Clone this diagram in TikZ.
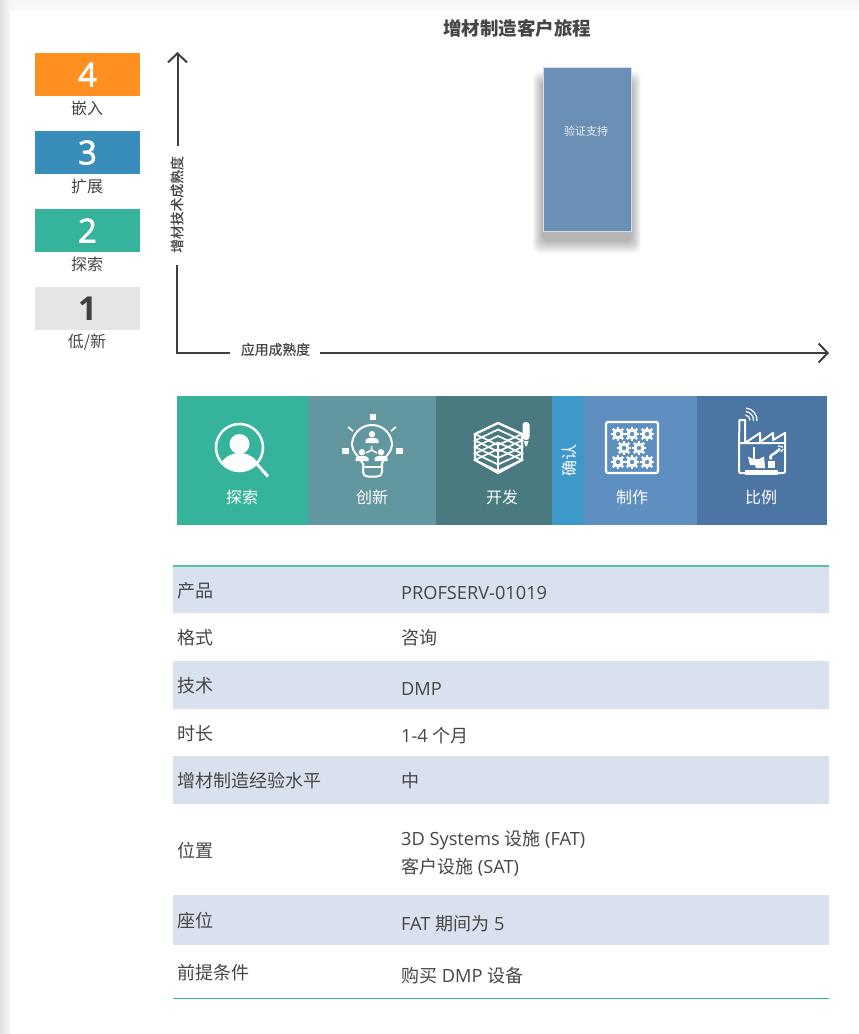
\documentclass[tikz,border=0pt]{standalone}
\usepackage{fontspec}
\setmainfont{Open Sans}
\newfontfamily\cjk{Noto Sans CJK SC}
\newfontfamily\cjkm[FakeBold=0.5]{Noto Sans CJK SC}
\newfontfamily\digitf[FakeBold=2]{Open Sans}
\usetikzlibrary{arrows.meta}
\definecolor{ink}{HTML}{464646}
\definecolor{axisc}{HTML}{404040}
\definecolor{rowc}{HTML}{DAE1EE}
\definecolor{tealc}{HTML}{35B39B}
\definecolor{toplinec}{HTML}{4CC4AC}
\definecolor{orangec}{HTML}{FF8F1F}
\definecolor{bluec}{HTML}{398DBA}
\definecolor{greyc}{HTML}{E5E5E5}
\definecolor{t2}{HTML}{62979F}
\definecolor{t3}{HTML}{487A7F}
\definecolor{t4}{HTML}{3E99CB}
\definecolor{t5}{HTML}{5F8FC1}
\definecolor{t6}{HTML}{4B75A3}
\definecolor{cardc}{HTML}{6B90B5}
\newcommand{\fs}[1]{\fontsize{#1}{#1}\selectfont}
\tikzset{
  x=1pt,y=-1pt,
  legendbox/.style={inner sep=0,outer sep=0,minimum width=105pt,minimum height=43pt,text=white,font=\digitf\fs{33}},
  legendlabel/.style={inner sep=0,text=ink,font=\cjk\fs{16}},
  tilelabel/.style={inner sep=0,text=white,font=\cjk\fs{16}},
  axislabel/.style={inner sep=0,text=ink,font=\cjkm\fs{13.8}},
  rowkey/.style={inner sep=0,anchor=west,text=ink,font=\cjk\fs{18}},
  rowval/.style={inner sep=0,anchor=west,text=ink,font=\fs{18.2}},
  axisline/.style={axisc,line width=2pt},
  axistip/.style={axisline,-{Straight Barb[length=9pt,width=19pt,line width=2pt]}},
  iconline/.style={white,line width=2pt,line cap=round,line join=round},
}
\newcommand{\gear}[2]{%
  \draw[white,line width=3pt] (#1,#2) circle[radius=4pt];
  \foreach \a in {0,45,...,315}{\draw[white,line width=2.4pt] ([shift={(\a:5pt)}]#1,#2) -- ([shift={(\a:7.3pt)}]#1,#2);}
}
\newcommand{\person}[3]{%
  \fill[white] (#1,#2-2.8*#3) circle[radius=3.2*#3 pt];
  \fill[white] (#1-6.5*#3,#2+6*#3) -- (#1-6.5*#3,#2+3*#3) .. controls (#1-5*#3,#2) and (#1+5*#3,#2) .. (#1+6.5*#3,#2+3*#3) -- (#1+6.5*#3,#2+6*#3) -- cycle;
}
\begin{document}
\begin{tikzpicture}
\useasboundingbox (0,0) rectangle (859,1034);
% page edge
\fill[white] (0,0) rectangle (859,1034);
\shade[top color=white!96!black,bottom color=white!98!black] (0,0) rectangle (859,10);
\shade[left color=white!88!black,right color=white!97!black] (0,0) rectangle (10,1034);

% title
\node[inner sep=0,text=ink,font=\cjk\bfseries\fs{18.5}] (title) at (517,28.5) {增材制造客户旅程};

% legend
\node[legendbox,fill=orangec] (l4) at (87.5,74.5) {4};
\node[legendbox,fill=bluec] (l3) at (87.5,152.5) {3};
\node[legendbox,fill=tealc] (l2) at (87.5,230.5) {2};
\node[legendbox,fill=greyc,text=axisc,font=\bfseries\fs{33}] (l1) at (87.5,308.5) {1};
\node[legendlabel] (l4t) at (87,108.5) {嵌入};
\node[legendlabel] (l3t) at (87,186.5) {扩展};
\node[legendlabel] (l2t) at (87,264.5) {探索};
\node[legendlabel] (l1t) at (87,342.5) {低/新};

% axes
\coordinate (origin) at (176.5,353);
\coordinate (ylow) at (176.5,265);
\coordinate (yhigh) at (177.5,146);
\coordinate (ytip) at (177.5,52);
\coordinate (xlow) at (230,353);
\coordinate (xhigh) at (320,353);
\coordinate (xtip) at (829,353);
\node[axislabel,rotate=90] (ylab) at (177,204.5) {增材技术成熟度};
\node[axislabel] (xlab) at (275.5,349.5) {应用成熟度};
\draw[axisline,line join=miter] (ylow) -- (origin) -- (xlow);
\draw[axistip] (yhigh) -- (ytip);
\draw[axistip] (xhigh) -- (xtip);

% card with soft shadow
\foreach \i in {0,...,9}{
  \fill[black,opacity=.03,rounded corners=7pt] (533+\i,72+\i) rectangle (641-\i,253-\i*1.3);
}
\node[draw=white!70!cardc,line width=.8pt,fill=cardc,minimum width=88pt,minimum height=164pt,inner sep=0,outer sep=0] (card) at (587,149) {};
\node[inner sep=0,text=white!85!cardc,font=\cjk\fs{11}] (cardt) at (586,131) {验证支持};

% tiles
\fill[tealc] (177,396) rectangle (308,525);
\fill[t2] (308,396) rectangle (436,525);
\fill[t3] (436,396) rectangle (552,525);
\fill[t4] (552,396) rectangle (584,525);
\fill[t5] (584,396) rectangle (697,525);
\fill[t6] (697,396) rectangle (827,525);
\node[tilelabel] (s1) at (242,497) {探索};
\node[tilelabel] (s2) at (372,497) {创新};
\node[tilelabel] (s3) at (502,497) {开发};
\node[tilelabel,rotate=90] (s4) at (569,460) {确认};
\node[tilelabel] (s5) at (632,497) {制作};
\node[tilelabel] (s6) at (761,497) {比例};

% icon: search
\draw[white,line width=2.5pt] (239.5,447.5) circle[radius=23.5pt];
\begin{scope}
  \clip (239.5,447.5) circle[radius=23.5pt];
  \fill[white] (239.5,472) ellipse[x radius=21pt,y radius=19pt];
\end{scope}
\fill[white] (239.5,444) circle[radius=10pt];
\draw[white,line width=3pt] (256,463) -- (268,476.5);

% icon: bulb
\draw[iconline] (363.5,465) .. controls (360,457) and (352,452) .. (352,445)
  arc[start angle=180,end angle=0,radius=20pt]
  .. controls (392,452) and (384,457) .. (381.5,465);
\draw[iconline] (363,465) -- (363,472) .. controls (363,475) and (365,476.5) .. (368,476.5) -- (377,476.5) .. controls (380,476.5) and (382,475) .. (382,472) -- (382,465);
\draw[iconline] (363,467) -- (382,467);
\fill[white] (370,414) rectangle (376,420);
\fill[white] (342,448) rectangle (349,454);
\fill[white] (396,448) rectangle (403,454);
\draw[white,line width=1.6pt] (348,427) -- (353,431);
\draw[white,line width=1.6pt] (396,427) -- (391,431);
\person{372}{437}{1}
\person{362}{455}{1}
\person{381}{455}{1}
\draw[white,line width=1.5pt] (371.5,446) -- (371.5,450) (371.5,450) -- (366,453) (371.5,450) -- (377,453);

% icon: lattice
\begin{scope}[line join=miter]
  \foreach \k in {0,6.5,13,19.5,26}{
    \draw[white,line width=1.7pt] (498,423+\k) -- (522,434+\k) -- (498,445+\k) -- (475,434+\k) -- cycle;
  }
  \draw[white,line width=2.2pt] (475,434) -- (498,423) -- (522,434) -- (522,460) -- (498,473) -- (475,460) -- cycle;
  \draw[white,line width=1.7pt] (498,445) -- (498,473);
\end{scope}
\fill[white,rounded corners=3pt] (522.5,422) rectangle (529.5,440);
\fill[white] (524,441) -- (528.5,441) -- (527,446) -- (525,446) -- cycle;

% icon: gears
\draw[white,line width=2.2pt,rounded corners=2pt] (606,422) rectangle (658,473);
\gear{618}{434}\gear{632}{434}\gear{647}{434}
\gear{624}{448}\gear{639}{448}
\gear{618}{462}\gear{632}{462}\gear{647}{462}

% icon: factory
\draw[iconline,line cap=butt] (739,443) -- (739,471) .. controls (739,473) and (740,473) .. (741,473) -- (783,473) .. controls (785,473) and (785,472) .. (785,471) -- (785,433) -- (773,440) -- (773,433) -- (760,442) -- (760,433) -- (745,443) -- (745,420) -- (739.5,420) -- (739,443) -- (785,443);
\fill[white] (745,470) rectangle (778,474.5);
\foreach \r in {5,8.5,12}{
  \draw[white,line width=1.2pt] ([shift={(85:\r pt)}]745,420) arc[start angle=85,end angle=-5,radius=\r pt];
}
\fill[white] (748,456.5) -- (753,459) -- (759,459) -- (764,456.5) -- (765,468) -- (756,468) -- (755,465) -- (750,465) -- cycle;
\draw[white,line width=1.5pt] (754,447) -- (754,460);
\fill[white] (768,461) rectangle (775,468);
\draw[white,line width=2.6pt] (771,459.5) .. controls (769,455) and (773,454.5) .. (775,453) -- (780,449);
\draw[white,line width=1.4pt] (778,446) -- (783,447) (781,452) -- (783,449);

% table
\fill[rowc] (173,566.5) rectangle (829,613);
\fill[rowc] (173,661) rectangle (829,708.5);
\fill[rowc] (173,756) rectangle (829,803.5);
\fill[rowc] (173,895) rectangle (829,945);
\coordinate (tl) at (173,565.7);
\coordinate (tr) at (829,565.7);
\coordinate (bl) at (173,998.5);
\coordinate (br) at (829,998.5);
\draw[toplinec,line width=1.6pt] (tl) -- (tr);
\draw[tealc,line width=1.3pt] (bl) -- (br);

\node[rowkey] (k1) at (177,591) {产品};
\node[rowkey] (k2) at (177,637.5) {格式};
\node[rowkey] (k3) at (177,685.5) {技术};
\node[rowkey] (k4) at (177,733.5) {时长};
\node[rowkey] (k5) at (177,780.5) {增材制造经验水平};
\node[rowkey] (k6) at (177,850.5) {位置};
\node[rowkey] (k7) at (177,920.5) {座位};
\node[rowkey] (k8) at (177,972.5) {前提条件};

\node[rowval] (v1) at (401,592.5) {PROFSERV-01019};
\node[rowval] (v2) at (401,637.5) {\cjk\fs{18}咨询};
\node[rowval] (v3) at (401,688.5) {DMP};
\node[rowval] (v4) at (401,735.5) {1-4 {\cjk\fs{18}个月}};
\node[rowval] (v5) at (401,780.5) {\cjk\fs{18}中};
\node[rowval] (v6a) at (401,840) {3D Systems {\cjk\fs{18}设施} (FAT)};
\node[rowval] (v6b) at (401,867.5) {{\cjk\fs{18}客户设施} (SAT)};
\node[rowval] (v7) at (401,923.5) {FAT {\cjk\fs{18}期间为} 5};
\node[rowval] (v8) at (401,975.5) {{\cjk\fs{18}购买} DMP {\cjk\fs{18}设备}};
\end{tikzpicture}
\end{document}
